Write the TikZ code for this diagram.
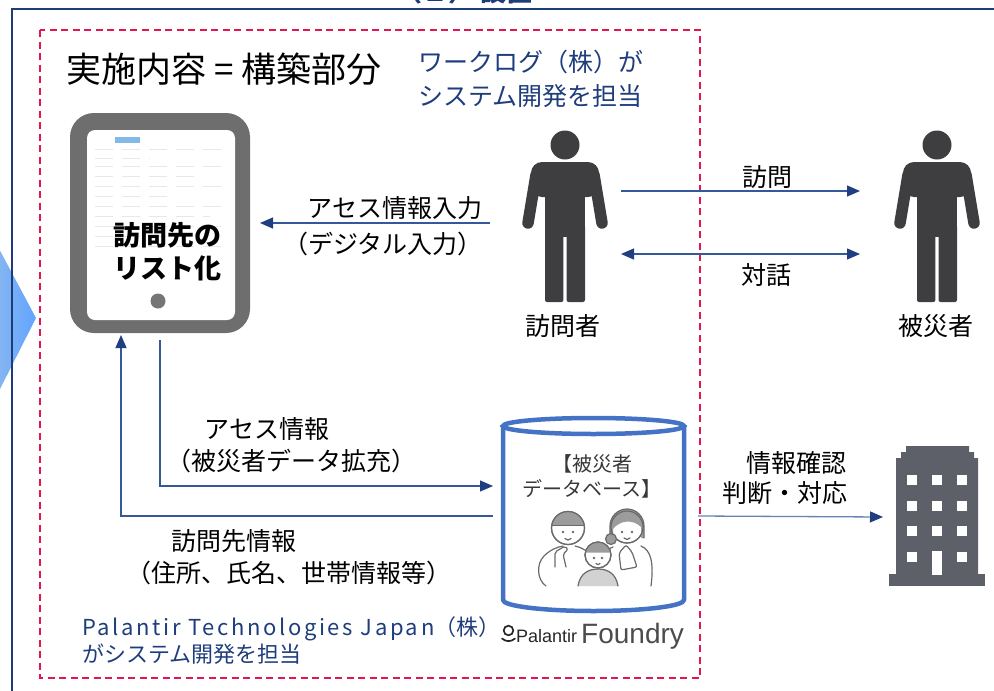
\documentclass[tikz,border=0pt]{standalone}
\usepackage{fontspec}
\setmainfont{Noto Sans CJK JP}
\newfontfamily\logofont{Liberation Sans}
\usetikzlibrary{arrows.meta,calc}

\definecolor{framenavy}{HTML}{1F3C7A}
\definecolor{textnavy}{HTML}{1E3D7C}
\definecolor{flowline}{HTML}{34589A}
\definecolor{flowtip}{HTML}{1F3F80}
\definecolor{dashred}{HTML}{E0184F}
\definecolor{tabgray}{HTML}{6E6E6E}
\definecolor{tabblue}{HTML}{4F9BDB}
\definecolor{persongray}{HTML}{3E3E40}
\definecolor{bldggray}{HTML}{5D6069}
\definecolor{dbblue}{HTML}{4472C4}
\definecolor{chevL}{HTML}{86B6F2}
\definecolor{chevR}{HTML}{62A4FF}
\definecolor{famline}{HTML}{6A6A6A}
\definecolor{famhair}{HTML}{9C9C9C}
\definecolor{famshirt}{HTML}{D2D2D2}

\tikzset{
  flow/.style={draw=flowline, line width=1.3pt,
    -{Triangle[length=13pt,width=11pt,color=flowtip]}},
  dflow/.style={draw=flowline, line width=1.3pt,
    {Triangle[length=13pt,width=11pt,color=flowtip]}-{Triangle[length=13pt,width=11pt,color=flowtip]}},
  lbl/.style={font=\fontsize{25}{31}\selectfont, inner sep=0pt},
  bluelbl/.style={font=\fontsize{25}{34}\selectfont, text=textnavy, inner sep=0pt, align=left},
  holder/.style={inner sep=0pt, outer sep=0pt},
  fam/.style={draw=famline, line width=1.2pt, line join=round, line cap=round},
  pics/person/.style={code={
    \fill[persongray] (0,0) circle (14.5);
    \fill[persongray, rounded corners=11pt] (-34,17) rectangle (34,52);
    \fill[persongray] (-20,30) rectangle (20,92);
    \draw[persongray, line width=11.5pt, line cap=round] (-29,30) -- (-37,78);
    \draw[persongray, line width=11.5pt, line cap=round] (29,30) -- (37,78);
    \fill[persongray, rounded corners=2pt] (-20,80) -- (-20,157) -- (-1.6,157) -- (-1.6,80) -- cycle;
    \fill[persongray, rounded corners=2pt] (1.6,80) -- (1.6,157) -- (20,157) -- (20,80) -- cycle;
  }}
}

\begin{document}
\begin{tikzpicture}[x=1pt,y=-1pt]
\useasboundingbox (0,0) rectangle (994,691);
\clip (0,0) rectangle (994,691);

% chevron entering from the left
\shade[left color=chevL, right color=chevR] (-3,245) -- (36,318) -- (-3,395) -- cycle;

% outer section frame and its heading
\draw[framenavy, line width=2pt] (12,710) -- (12,9) -- (1010,9);
\node[anchor=base west, font=\fontsize{26}{26}\selectfont\bfseries, text=framenavy, inner sep=0pt] (heading) at (396,1) {（２） 設置};

% scope of the built part
\draw[dashred, line width=2.6pt, dash pattern=on 7pt off 4.5pt] (40,30) rectangle (700,678);

\node[anchor=west, font=\fontsize{35}{35}\selectfont, inner sep=0pt] (title) at (66,69) {実施内容 = 構築部分};
\node[bluelbl, anchor=west] (worklog) at (418,79) {ワークログ（株）が\\システム開発を担当};

% tablet
\node[holder, minimum width=180, minimum height=220] (tablet) at (160,223) {};
\fill[tabgray, rounded corners=24pt] (70,113) rectangle (250,333);
\fill[white, rounded corners=8pt] (87,130) rectangle (235,320);
\fill[tabblue!70] (115,137) rectangle (140,143);
\foreach \yy/\xa/\xb in {149/95/225, 158/95/150, 166/95/225, 176/95/200, 186/95/225, 196/95/170, 206/95/225, 216/95/210, 226/95/225, 236/95/190, 246/95/225}{
  \draw[black!9, line width=0.8pt, dash pattern=on 18pt off 9pt] (\xa,\yy) -- (\xb,\yy);
}
\fill[tabgray!95] (158,301) circle (7.5);
\node[anchor=west, align=left, font=\fontsize{27}{33}\selectfont\bfseries, inner sep=0pt] (tabtext) at (113,252) {訪問先の\\リスト化};

% visitor and affected person
\node[holder, minimum width=90, minimum height=172] (visitor) at (565,216) {};
\pic at (565,145) {person};
\node[lbl] (visitorname) at (563,326) {訪問者};

\node[holder, minimum width=90, minimum height=172] (victim) at (937,216) {};
\pic at (937,145) {person};
\node[lbl] (victimname) at (936,326) {被災者};

% database cylinder
\node[holder, minimum width=181, minimum height=194] (db) at (593.5,515) {};
\draw[dbblue, line width=4.5pt, line join=round] (503,426) -- (503,600) arc (180:0:90.5 and 11) -- (684,426);
\draw[dbblue, line width=4.5pt] (593.5,426) ellipse (90.5 and 8);
\node[align=center, font=\fontsize{20}{25}\selectfont, text=black!78, inner sep=0pt] (dbtext) at (592,476) {【被災者\\データベース】};

% family illustration inside the database
\begin{scope}
  % bodies
  \draw[fam] (546,586) .. controls (537,580) and (536,564) .. (544,556) .. controls (550,550) and (557,547) .. (563,546);
  \draw[fam] (575,546) .. controls (583,548) and (588,551) .. (591,557);
  \draw[fam] (613,547) .. controls (608,549) and (605,551) .. (603,554);
  \draw[fam] (641,546) .. controls (651,550) and (654,563) .. (651,586);
  \filldraw[fam, fill=famshirt] (578,586) .. controls (580,573) and (589,569) .. (598,569) .. controls (607,569) and (616,573) .. (618,586);
  % father
  \draw[fam, fill=white] (568,528) circle (16.5);
  \fill[famhair] (551.8,525.1) arc (190:350:16.5) -- cycle;
  \draw[fam] (551.8,525.1) -- (584.2,525.1);
  \draw[fam] (568,528) circle (16.5);
  \fill[famline] (563,532) circle (1.4) (573,532) circle (1.4);
  \draw[fam] (565,538.5) .. controls (567,540.5) and (569,540.5) .. (571,538.5);
  \draw[fam, fill=white, rounded corners=2pt] (555,567) -- (555,552) -- (565,546) -- (568,549.5) -- (563,554) -- (566,567);
  % mother
  \draw[fam, fill=white] (627,527) circle (16);
  \fill[famhair] (610,538) -- (610,526) arc (180:360:17) -- (644,538) -- (641,538) -- (641,527) .. controls (633,519) and (620,520) .. (613,529) -- (613,538) -- cycle;
  \draw[fam] (610,538) -- (610,526) arc (180:360:17) -- (644,538);
  \draw[fam] (627,527) circle (16);
  \fill[famline] (622,532) circle (1.4) (632,532) circle (1.4);
  \draw[fam] (624,538) .. controls (626,540) and (628,540) .. (630,538);
  \draw[fam, fill=white, rounded corners=2pt] (621,570) -- (619,553) -- (626,545) -- (632,552) -- (637,567) -- cycle;
  % child
  \filldraw[fam, fill=famhair] (611,539) circle (5.5);
  \draw[fam, fill=white] (598,555) circle (13);
  \fill[famhair] (585.2,552.7) arc (190:350:13) -- cycle;
  \draw[fam] (598,555) circle (13);
  \fill[famline] (594,558) circle (1.3) (602,558) circle (1.3);
  \draw[fam] (596,563.5) .. controls (597.5,565) and (598.5,565) .. (600,563.5);
\end{scope}

% Palantir Foundry mark
\draw[black!85, line width=1.7pt] (508.5,630.5) circle (4.8);
\draw[black!85, line width=1.7pt, line cap=round] (502,638.5) .. controls (506,642) and (511,642) .. (515,638.5);
\node[anchor=west, font=\logofont\fontsize{18}{18}\selectfont, text=black!85, inner sep=0pt] (palantir) at (516,636) {Palantir};
\node[anchor=west, font=\logofont\fontsize{28}{28}\selectfont, text=black!70, inner sep=0pt] (foundry) at (581,636) {Foundry};

\node[anchor=west, align=left, font=\fontsize{22}{27}\selectfont, text=textnavy, inner sep=0pt] (palantirdev) at (82,641)
  {{\addfontfeature{LetterSpace=12}Palantir Technologies Japan}（株）\\がシステム開発を担当};

% office building
\node[holder, minimum width=96, minimum height=140] (bldg) at (937,516) {};
\fill[bldggray] (896,575) -- (896,458) -- (901,458) -- (901,452) -- (906,452) -- (906,446)
  -- (969,446) -- (969,452) -- (974,452) -- (974,458) -- (978,458) -- (978,575) -- cycle;
\fill[bldggray] (889,574) rectangle (985,586);
\foreach \wy in {480,506,531}{
  \foreach \wx in {912,937,962}{
    \fill[white] (\wx-5,\wy-5) rectangle (\wx+5,\wy+5);
  }
}
\fill[white] (907,552) rectangle (917,562);
\fill[white] (957,552) rectangle (967,562);
\fill[white] (932,551) rectangle (942,575);

% connectors
\draw[flow] ($(visitor.west)+(-30,7)$) -- ($(tablet.east)+(10,0)$);
\node[lbl] (accessin) at (395,208) {アセス情報入力};
\node[lbl] (digital) at (383,244) {（デジタル入力）};

\draw[flow] ($(visitor.east)+(11,-25)$) -- ($(victim.west)+(-32,-25)$);
\node[lbl] (visitlbl) at (767,177) {訪問};
\draw[dflow] ($(visitor.east)+(11,38)$) -- ($(victim.west)+(-32,38)$);
\node[lbl] (talklbl) at (766,275) {対話};

\draw[flow] ($(tablet.south)+(0,7)$) |- ($(db.west)+(-10,-29)$);
\node[lbl] (accessinfo) at (267,429) {アセス情報};
\node[lbl] (extend) at (291,461) {（被災者データ拡充）};

\draw[flow] ($(db.west)+(-10,1)$) -| ($(tablet.south)+(-39,2)$);
\node[lbl] (visitinfo) at (234,541) {訪問先情報};
\node[lbl] (details) at (289,573) {（住所、氏名、世帯情報等）};

\draw[flow, draw=flowline!75] ($(db.east)+(14,1)$) -- ($(bldg.west)+(-6,1)$);
\node[lbl] (confirm) at (796,463) {情報確認};
\node[lbl] (judge) at (785,493) {判断・対応};

\end{tikzpicture}
\end{document}
